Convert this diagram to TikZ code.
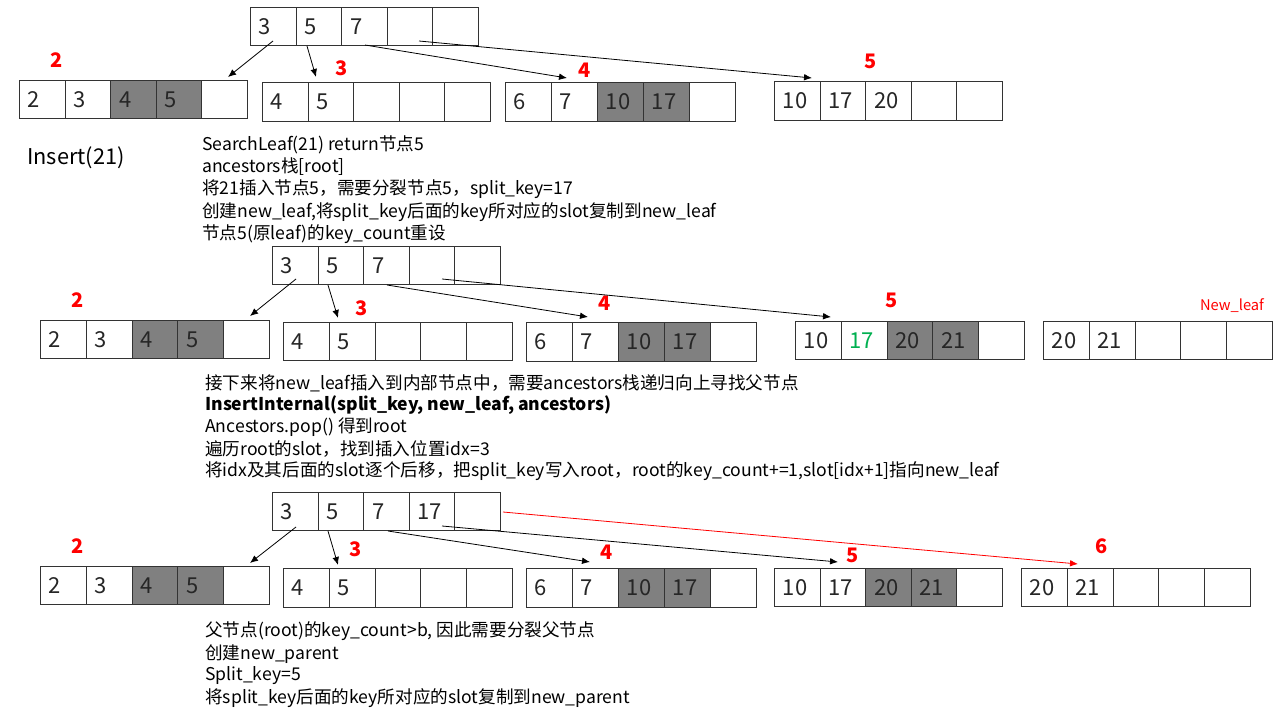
\documentclass[tikz,border=0pt]{standalone}
\usepackage{fontspec}
\setmainfont{Noto Sans CJK SC}
\usetikzlibrary{arrows.meta}
\definecolor{cellgray}{HTML}{808080}
\definecolor{keygreen}{HTML}{00B050}
\tikzset{
  cellbox/.style={draw=black!80, line width=0.75pt, inner sep=0pt},
  num/.style={font=\fontsize{16.5}{19}\selectfont, inner sep=0pt, text=black!85},
  lbl/.style={font=\fontsize{15}{18}\selectfont\bfseries, text=red, inner sep=0pt},
  txt/.style={font=\fontsize{13.2}{16}\selectfont, anchor=west, inner sep=0pt},
  arr/.style={-{Latex[length=6pt,width=5pt]}, line width=0.6pt},
}
\newcommand\mkcells[6]{%
  \pgfmathsetmacro\cw{#4/5}%
  \foreach \t/\f [count=\i] in {#6} {%
    \pgfmathsetmacro\cx{#2+(\i-1)*\cw}%
    \node[cellbox, fill=\f, minimum width=\cw*0.75pt, minimum height=#5*0.75pt, anchor=north west] (#1-\i) at (\cx,#3) {};
    \node[num, anchor=west] (#1-\i-t) at ([xshift=6.5pt]#1-\i.west) {\t};
  }}
\begin{document}
\begin{tikzpicture}[x=0.75pt,y=-0.75pt]
\fill[white] (0,0) rectangle (1280,720);
\useasboundingbox (0,0) rectangle (1280,720);

% ---------- Row 1 ----------
\mkcells{ra}{250}{7}{228}{38}{3/white,5/white,7/white,/white,/white}
\mkcells{la}{19}{80}{228}{38}{2/white,3/white,4/cellgray,5/cellgray,/white}
\mkcells{lb}{262}{82}{228}{39}{4/white,5/white,/white,/white,/white}
\mkcells{lc}{505}{82}{230}{39}{6/white,7/white,10/cellgray,17/cellgray,/white}
\mkcells{ld}{774}{81}{228}{39}{10/white,17/white,20/white,/white,/white}
\node[lbl] (na2) at (57,60) {2};
\node[lbl] (na3) at (342,68) {3};
\node[lbl] (na4) at (585,70) {4};
\node[lbl] (na5) at (871,61) {5};
\coordinate (a1s) at (273,41); \coordinate (a1e) at (228,77);
\coordinate (a2s) at (307,46); \coordinate (a2e) at (316,77);
\coordinate (a3s) at (365,45); \coordinate (a3e) at (567,78);
\coordinate (a4s) at (419,41); \coordinate (a4e) at (812,78);
\draw[arr] (a1s) -- (a1e);
\draw[arr] (a2s) -- (a2e);
\draw[arr] (a3s) -- (a3e);
\draw[arr] (a4s) -- (a4e);

\node[txt, font=\fontsize{16.3}{19}\selectfont] (ins) at (27,158) {Insert(21)};
\node[txt] (t1a) at (202,145) {SearchLeaf(21) return节点5};
\node[txt] (t1b) at (202,167) {ancestors栈[root]};
\node[txt] (t1c) at (202,189) {将21插入节点5，需要分裂节点5，split\_key=17};
\node[txt] (t1d) at (202,212) {创建new\_leaf,将split\_key后面的key所对应的slot复制到new\_leaf};
\node[txt] (t1e) at (202,234) {节点5(原leaf)的key\_count重设};

% ---------- Row 2 ----------
\mkcells{rb}{272}{246}{228}{38}{3/white,5/white,7/white,/white,/white}
\mkcells{ma}{40}{320}{229}{38}{2/white,3/white,4/cellgray,5/cellgray,/white}
\mkcells{mb}{283}{322}{229}{38}{4/white,5/white,/white,/white,/white}
\mkcells{mc}{526}{322}{230}{39}{6/white,7/white,10/cellgray,17/cellgray,/white}
\mkcells{md}{795}{321}{229}{38}{10/white,{\textcolor{keygreen}{17}}/white,20/cellgray,21/cellgray,/white}
\mkcells{me}{1043}{321}{229}{38}{20/white,21/white,/white,/white,/white}
\node[lbl] (nb2) at (78,300) {2};
\node[lbl] (nb3) at (362,308) {3};
\node[lbl] (nb4) at (605,303) {4};
\node[lbl] (nb5) at (892,300) {5};
\node[lbl, font=\fontsize{11}{13}\selectfont] (nbn) at (1232,306) {New\_leaf};
\coordinate (b1s) at (296,279); \coordinate (b1e) at (250,316);
\coordinate (b2s) at (328,285); \coordinate (b2e) at (338,318);
\coordinate (b3s) at (387,285); \coordinate (b3e) at (588,317);
\coordinate (b4s) at (442,279); \coordinate (b4e) at (831,317);
\draw[arr] (b1s) -- (b1e);
\draw[arr] (b2s) -- (b2e);
\draw[arr] (b3s) -- (b3e);
\draw[arr] (b4s) -- (b4e);

\node[txt] (t2a) at (205,383) {接下来将new\_leaf插入到内部节点中，需要ancestors栈递归向上寻找父节点};
\node[txt, font=\fontsize{13.2}{16}\selectfont\bfseries] (t2b) at (205,405) {InsertInternal(split\_key, new\_leaf, ancestors)};
\node[txt] (t2c) at (205,427) {Ancestors.pop() 得到root};
\node[txt] (t2d) at (205,449) {遍历root的slot，找到插入位置idx=3};
\node[txt] (t2e) at (205,471) {将idx及其后面的slot逐个后移，把split\_key写入root，root的key\_count+=1,slot[idx+1]指向new\_leaf};

% ---------- Row 3 ----------
\mkcells{rc}{272}{492}{228}{38}{3/white,5/white,7/white,17/white,/white}
\mkcells{ka}{40}{566}{229}{38}{2/white,3/white,4/cellgray,5/cellgray,/white}
\mkcells{kb}{283}{568}{229}{39}{4/white,5/white,/white,/white,/white}
\mkcells{kc}{526}{568}{230}{39}{6/white,7/white,10/cellgray,17/cellgray,/white}
\mkcells{kd}{774}{568}{228}{38}{10/white,17/white,20/cellgray,21/cellgray,/white}
\mkcells{ke}{1021}{568}{229}{38}{20/white,21/white,/white,/white,/white}
\node[lbl] (nc2) at (78,546) {2};
\node[lbl] (nc3) at (356,549) {3};
\node[lbl] (nc4) at (607,552) {4};
\node[lbl] (nc5) at (853,555) {5};
\node[lbl] (nc6) at (1102,546) {6};
\coordinate (c1s) at (296,527); \coordinate (c1e) at (250,563);
\coordinate (c2s) at (328,531); \coordinate (c2e) at (338,565);
\coordinate (c3s) at (388,531); \coordinate (c3e) at (590,562);
\coordinate (c4s) at (442,526); \coordinate (c4e) at (838,562);
\coordinate (c5s) at (503,512); \coordinate (c5e) at (1078,564);
\draw[arr] (c1s) -- (c1e);
\draw[arr] (c2s) -- (c2e);
\draw[arr] (c3s) -- (c3e);
\draw[arr] (c4s) -- (c4e);
\draw[arr, red] (c5s) -- (c5e);

\node[txt] (t3a) at (205,631) {父节点(root)的key\_count>b, 因此需要分裂父节点};
\node[txt] (t3b) at (205,654) {创建new\_parent};
\node[txt] (t3c) at (205,676) {Split\_key=5};
\node[txt] (t3d) at (205,698) {将split\_key后面的key所对应的slot复制到new\_parent};
\end{tikzpicture}
\end{document}
